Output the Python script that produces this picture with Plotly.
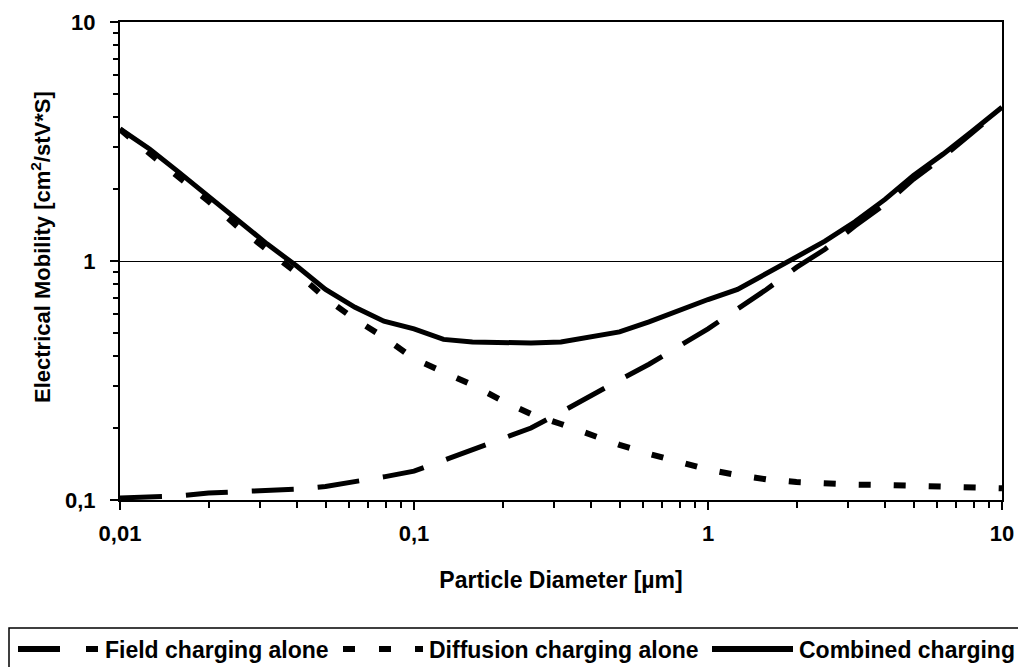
import plotly.graph_objects as go

diameter_um = [0.01, 0.0126, 0.0158, 0.02, 0.025, 0.0316, 0.04, 0.05, 0.063, 0.079,
               0.1, 0.126, 0.158, 0.2, 0.25, 0.316, 0.4, 0.5, 0.63, 0.79,
               1.0, 1.26, 1.58, 2.0, 2.5, 3.16, 4.0, 5.0, 6.3, 7.9, 10.0]

field_charging = [0.102, 0.103, 0.104, 0.107, 0.108, 0.109, 0.111, 0.114, 0.119, 0.125,
                  0.132, 0.147, 0.163, 0.18, 0.20, 0.233, 0.275, 0.318, 0.37, 0.44,
                  0.52, 0.63, 0.76, 0.94, 1.12, 1.40, 1.73, 2.20, 2.72, 3.43, 4.37]

diffusion_charging = [3.55, 2.83, 2.25, 1.78, 1.40, 1.11, 0.89, 0.70, 0.57, 0.48,
                      0.39, 0.343, 0.303, 0.26, 0.229, 0.208, 0.187, 0.17, 0.156, 0.144,
                      0.134, 0.127, 0.122, 0.119, 0.117, 0.116, 0.1155, 0.1145, 0.113, 0.112, 0.112]

combined_charging = [3.57, 2.94, 2.36, 1.87, 1.50, 1.18, 0.95, 0.76, 0.64, 0.56,
                     0.52, 0.47, 0.458, 0.454, 0.454, 0.458, 0.48, 0.505, 0.556, 0.62,
                     0.69, 0.76, 0.887, 1.04, 1.21, 1.46, 1.81, 2.28, 2.80, 3.48, 4.4]

x_tickvals = [0.01, 0.1, 1, 10]
x_ticktext = ["0,01", "0,1", "1", "10"]
y_tickvals = [0.1, 1, 10]
y_ticktext = ["0,1", "1", "10"]

series_names = ["Field charging alone", "Diffusion charging alone", "Combined charging"]
x_title = "Particle Diameter [µm]"
y_title = "Electrical Mobility [cm<sup>2</sup>/stV*S]"

FONT = "Liberation Sans, Arial, sans-serif"
OFF = 8  # page body margin
W, H = 1026 - OFF, 667 - OFF
L, T = 120 - OFF, 22 - OFF
R = W - (1002 - OFF)
B = H - (500 - OFF)
PW, PH = W - L - R, H - T - B


def px_x(p):
    return (p - OFF - L) / PW


def px_y(p):
    return (H - B - (p - OFF)) / PH


fig = go.Figure()
fig.add_trace(go.Scatter(x=diameter_um, y=field_charging, mode="lines", name=series_names[0],
                         line=dict(color="black", width=5, dash="42px,24px")))
fig.add_trace(go.Scatter(x=diameter_um, y=diffusion_charging, mode="lines", name=series_names[1],
                         line=dict(color="black", width=6, dash="12px,23px")))
fig.add_trace(go.Scatter(x=diameter_um, y=combined_charging, mode="lines", name=series_names[2],
                         line=dict(color="black", width=5)))

axis_common = dict(
    showline=True, linecolor="black", linewidth=2, mirror=True,
    ticks="outside", ticklen=8, tickwidth=2, tickcolor="black",
    tickfont=dict(family=FONT, size=22, color="black", weight="bold"),
    zeroline=False,
)

fig.update_xaxes(type="log", range=[-2, 1], tickvals=x_tickvals, ticktext=x_ticktext,
                 showgrid=False,
                 minor=dict(ticks="outside", ticklen=6, tickwidth=2, tickcolor="black",
                            dtick="D1", showgrid=False),
                 ticklabelstandoff=5,
                 title=dict(text=x_title, standoff=26,
                            font=dict(family=FONT, size=23, color="black", weight="bold")),
                 **axis_common)
fig.update_yaxes(type="log", range=[-1, 1], tickvals=y_tickvals, ticktext=y_ticktext,
                 showgrid=True, gridcolor="black", gridwidth=1,
                 minor=dict(ticks="outside", ticklen=5, tickwidth=2, tickcolor="black",
                            dtick="D1", showgrid=False),
                 ticklabelstandoff=10,
                 **axis_common)

# custom legend box
shapes = [dict(type="rect", xref="paper", yref="paper",
               x0=px_x(9), x1=px_x(1020), y0=px_y(700), y1=px_y(628),
               line=dict(color="black", width=1.5), fillcolor="rgba(0,0,0,0)")]
legend_items = [
    (18, 98, 106, dict(color="black", width=6, dash="42px,26px")),
    (343, 423, 430, dict(color="black", width=6, dash="12px,24px")),
    (712, 793, 800, dict(color="black", width=6)),
]
annotations = [dict(xref="paper", yref="paper", x=px_x(41), y=px_y(247),
                    xanchor="center", yanchor="middle", textangle=-90, showarrow=False,
                    text=y_title,
                    font=dict(family=FONT, size=22, color="black", weight="bold"))]
for (sx0, sx1, tx, ln), name in zip(legend_items, series_names):
    shapes.append(dict(type="line", xref="paper", yref="paper",
                       x0=px_x(sx0), x1=px_x(sx1), y0=px_y(649), y1=px_y(649), line=ln))
    annotations.append(dict(xref="paper", yref="paper", x=px_x(tx - 3), y=px_y(650),
                            xanchor="left", yanchor="middle", showarrow=False, text=name,
                            font=dict(family=FONT, size=23, color="black", weight="bold")))

fig.update_layout(
    width=W, height=H,
    margin=dict(l=L, r=R, t=T, b=B, autoexpand=False),
    paper_bgcolor="white", plot_bgcolor="white",
    showlegend=False,
    shapes=shapes, annotations=annotations,
    font=dict(family=FONT, color="black"),
)

fig.write_html("out.html")
